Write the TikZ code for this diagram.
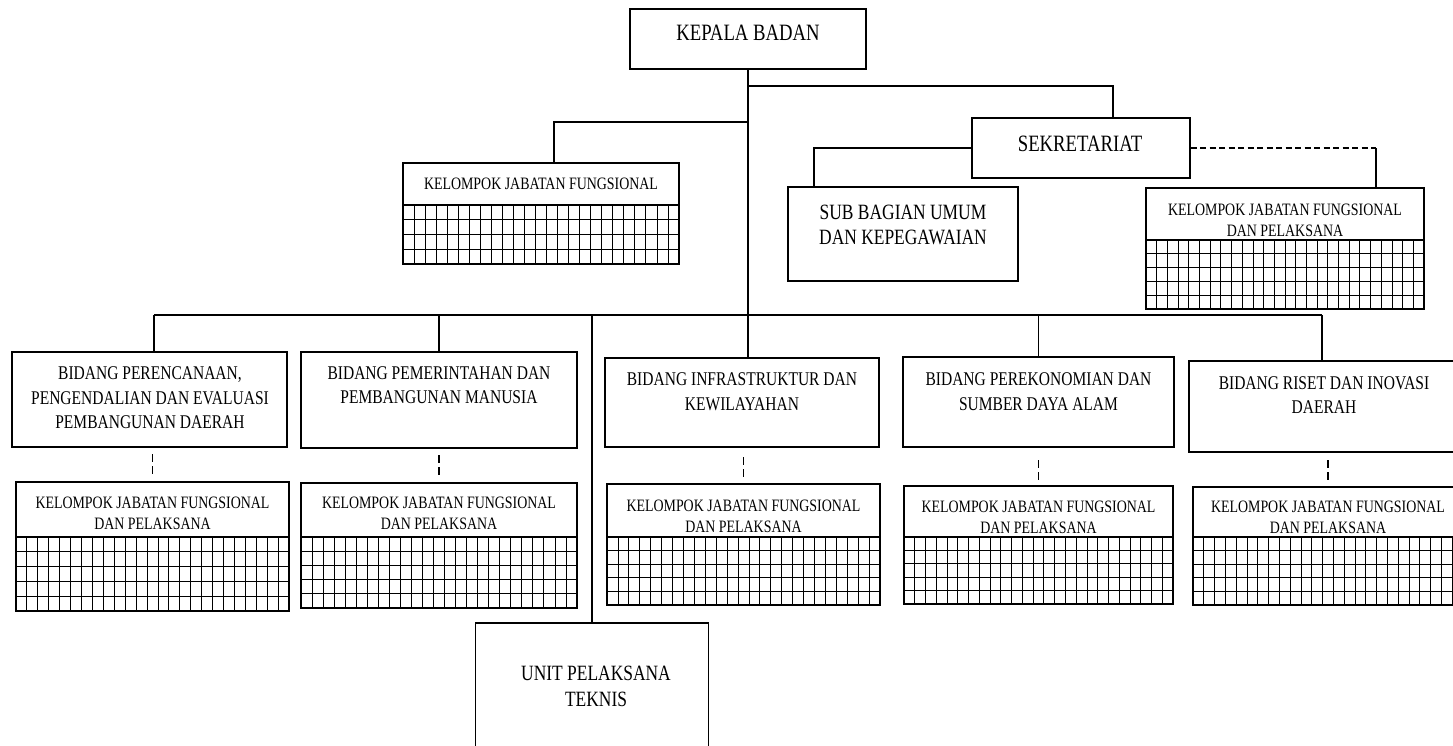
\documentclass[tikz,border=0pt]{standalone}
\usepackage{fontspec}
\setmainfont{Liberation Serif}[FakeStretch=0.8]
\usetikzlibrary{calc}

% grid under a kelompok box: x1, divider y, x2, bottom y, columns, rows
\newcommand{\kjfgrid}[6]{%
  \foreach \gi in {1,...,#5}
    \draw[gridline] ({#1+(#3-#1)*\gi/#5},#2) -- ({#1+(#3-#1)*\gi/#5},#4);
  \foreach \gj in {1,...,#6}
    \draw[gridline] (#1,{#2+(#4-#2)*\gj/#6}) -- (#3,{#2+(#4-#2)*\gj/#6});
  \draw[divline] (#1,#2) -- (#3,#2);
}

\begin{document}
\begin{tikzpicture}[x=1pt,y=-1pt,
    box/.style={draw,line width=1.3pt,inner sep=0pt},
    link/.style={line width=1.1pt},
    dashlink/.style={line width=1.2pt,dash pattern=on 8pt off 4pt},
    sekdash/.style={line width=1.1pt,dash pattern=on 6pt off 3.5pt},
    gridline/.style={line width=0.85pt},
    divline/.style={line width=1.3pt},
    bigtxt/.style={inner sep=0pt,font=\fontsize{23.4}{26}\selectfont},
    midtxt/.style={inner sep=0pt,align=center,font=\fontsize{21.8}{25.5}\selectfont},
    bidtxt/.style={inner sep=0pt,align=center,font=\fontsize{19.4}{24.5}\selectfont},
    kjftxt/.style={inner sep=0pt,align=center,font=\fontsize{17.4}{21}\selectfont}]
  \clip (0,0) rectangle (1453,745);
  % head
  \node[box,minimum width=236pt,minimum height=60pt] (kepala) at (748,39) {};
  \node[bigtxt] (kepala-t) at (748,33) {KEPALA BADAN};
  % sekretariat
  \node[box,minimum width=218pt,minimum height=60pt] (sek) at (1081,148) {};
  \node[bigtxt] (sek-t) at (1080,144) {SEKRETARIAT};
  \node[box,minimum width=230pt,minimum height=94pt] (subbag) at (903,234) {};
  \node[midtxt] (subbag-t) at (903,225) {SUB BAGIAN UMUM\\DAN KEPEGAWAIAN};
  \node[box,minimum width=278pt,minimum height=121pt] (kjfs) at (1285,248.5) {};
  \node[kjftxt] (kjfs-t) at (1285,220) {KELOMPOK JABATAN FUNGSIONAL\\DAN PELAKSANA};
  \kjfgrid{1146}{240}{1424}{309}{26}{5}
  % kelompok jabatan fungsional
  \node[box,minimum width=276pt,minimum height=101pt] (kjf0) at (541,213.5) {};
  \node[kjftxt] (kjf0-t) at (541,184) {KELOMPOK JABATAN FUNGSIONAL};
  \kjfgrid{403}{205}{679}{264}{25}{4}
  % bidang
  \node[box,minimum width=275pt,minimum height=95pt] (bid1) at (149.5,399.5) {};
  \node[bidtxt] (bid1-t) at (150,398) {BIDANG PERENCANAAN,\\PENGENDALIAN DAN EVALUASI\\PEMBANGUNAN DAERAH};
  \node[box,minimum width=276pt,minimum height=96pt] (bid2) at (439,400) {};
  \node[bidtxt] (bid2-t) at (439,385) {BIDANG PEMERINTAHAN DAN\\PEMBANGUNAN MANUSIA};
  \node[box,minimum width=274pt,minimum height=89pt] (bid3) at (742,402.5) {};
  \node[bidtxt] (bid3-t) at (742,391.5) {BIDANG INFRASTRUKTUR DAN\\KEWILAYAHAN};
  \node[box,minimum width=271pt,minimum height=90pt] (bid4) at (1038.5,402) {};
  \node[bidtxt] (bid4-t) at (1038.5,391.5) {BIDANG PEREKONOMIAN DAN\\SUMBER DAYA ALAM};
  \node[box,minimum width=274pt,minimum height=91pt] (bid5) at (1326,406.5) {};
  \node[bidtxt] (bid5-t) at (1324,395) {BIDANG RISET DAN INOVASI\\DAERAH};
  % kelompok under each bidang
  \node[box,minimum width=273pt,minimum height=129pt] (kjf1) at (152.5,546.5) {};
  \node[kjftxt] (kjf1-t) at (152.5,513.5) {KELOMPOK JABATAN FUNGSIONAL\\DAN PELAKSANA};
  \kjfgrid{16}{537}{289}{611}{25}{5}
  \node[box,minimum width=276pt,minimum height=125pt] (kjf2) at (439,545.5) {};
  \node[kjftxt] (kjf2-t) at (439,513.5) {KELOMPOK JABATAN FUNGSIONAL\\DAN PELAKSANA};
  \kjfgrid{301}{537}{577}{608}{25}{5}
  \node[box,minimum width=273pt,minimum height=121pt] (kjf3) at (743.5,544.5) {};
  \node[kjftxt] (kjf3-t) at (743.5,516) {KELOMPOK JABATAN FUNGSIONAL\\DAN PELAKSANA};
  \kjfgrid{607}{537}{880}{605}{25}{5}
  \node[box,minimum width=269pt,minimum height=118pt] (kjf4) at (1038.5,545) {};
  \node[kjftxt] (kjf4-t) at (1038.5,517.5) {KELOMPOK JABATAN FUNGSIONAL\\DAN PELAKSANA};
  \kjfgrid{904}{537}{1173}{604}{25}{5}
  \node[box,minimum width=270pt,minimum height=118pt] (kjf5) at (1328,546) {};
  \node[kjftxt] (kjf5-t) at (1328,517.5) {KELOMPOK JABATAN FUNGSIONAL\\DAN PELAKSANA};
  \kjfgrid{1193}{537}{1463}{605}{25}{5}
  % unit pelaksana
  \node[box,minimum width=233pt,minimum height=152pt] (upt) at (592,699) {};
  \node[midtxt] (upt-t) at (596,686.5) {UNIT PELAKSANA\\TEKNIS};
  % connectors
  \coordinate (j1) at (748,86);
  \coordinate (j2) at (748,122);
  \coordinate (busL) at (154,315);
  \coordinate (busR) at (1322,315);
  \coordinate (kjfs-in) at ([xshift=91pt]kjfs.north);
  \draw[link] (kepala.south) -- (kepala.south |- bid3.north);
  \draw[link] (j1) -| ([xshift=32pt]sek.north);
  \draw[link] (j2) -| ([xshift=13pt]kjf0.north);
  \draw[link] (sek.west) -| ([xshift=-89pt]subbag.north);
  \draw[sekdash] (sek.east) -- (sek.east -| kjfs-in);
  \draw[link] (sek.east -| kjfs-in) -- (kjfs-in);
  \draw[link] (busL) -- (busR);
  \draw[link] (busL) -- (busL |- bid1.north);
  \draw[link] (bid2.north) -- (bid2.north |- busL);
  \draw[link] (upt.north |- busL) -- (upt.north);
  \draw[link] (bid4.north) -- (bid4.north |- busL);
  \draw[link] (busR) -- (busR |- bid5.north);
  % dashed links to kelompok
  \draw[dashlink] ([yshift=27pt]kjf1.north) -- ([yshift=7pt]kjf1.north);
  \draw[dashlink] ([yshift=27pt]kjf2.north) -- ([yshift=7pt]kjf2.north);
  \draw[dashlink] ([yshift=26pt]kjf3.north) -- ([yshift=5pt]kjf3.north);
  \draw[dashlink] ([yshift=25pt]kjf4.north) -- ([yshift=5pt]kjf4.north);
  \draw[dashlink] ([yshift=26pt]kjf5.north) -- ([yshift=5pt]kjf5.north);
\end{tikzpicture}
\end{document}
